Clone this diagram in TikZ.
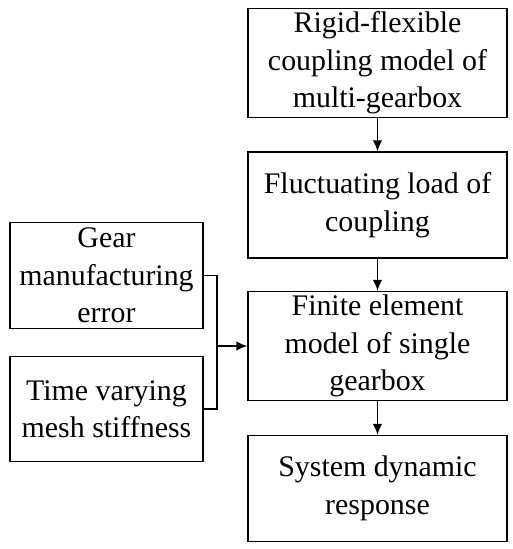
\documentclass[tikz,border=0pt]{standalone}
\usepackage{fontspec}
\setmainfont{Liberation Serif}
\usepackage{tikz}
\usetikzlibrary{positioning, arrows.meta}

\begin{document}
\begin{tikzpicture}[
  font=\fontsize{17}{21.3}\selectfont,
  box/.style={draw, line width=0.75pt, align=center, inner sep=2pt},
  mainbox/.style={box, minimum width=51.8mm, minimum height=21.2mm},
  inbox/.style={box, minimum width=38.6mm, minimum height=21.1mm},
  arrow/.style={-{Latex[length=2.2mm, width=1.9mm]}, line width=0.75pt},
  link/.style={line width=0.75pt},
]
\useasboundingbox (0,0) rectangle (10.24,-10.98);
\node[mainbox] (rigid) at (7.55, -1.26) {Rigid-flexible\\coupling model of\\multi-gearbox};
\node[mainbox] (load) at (7.55, -4.10) {Fluctuating load of\\coupling};
\node[mainbox] (fem) at (7.55, -6.92) {Finite element\\model of single\\gearbox};
\node[mainbox] (resp) at (7.55, -9.77) {System dynamic\\response};
\node[inbox] (error) at (2.13, -5.51) {Gear\\manufacturing\\error};
\node[inbox] (stiff) at (2.13, -8.18) {Time varying\\mesh stiffness};
\coordinate (bus) at (4.34, -6.92);

\draw[arrow] (rigid.south) -- (load.north);
\draw[arrow] (load.south) -- (fem.north);
\draw[arrow] (fem.south) -- (resp.north);
\draw[link] (error.east) -| (bus);
\draw[link] (stiff.east) -| (bus);
\draw[arrow] (bus) -- (fem.west);
\end{tikzpicture}
\end{document}
